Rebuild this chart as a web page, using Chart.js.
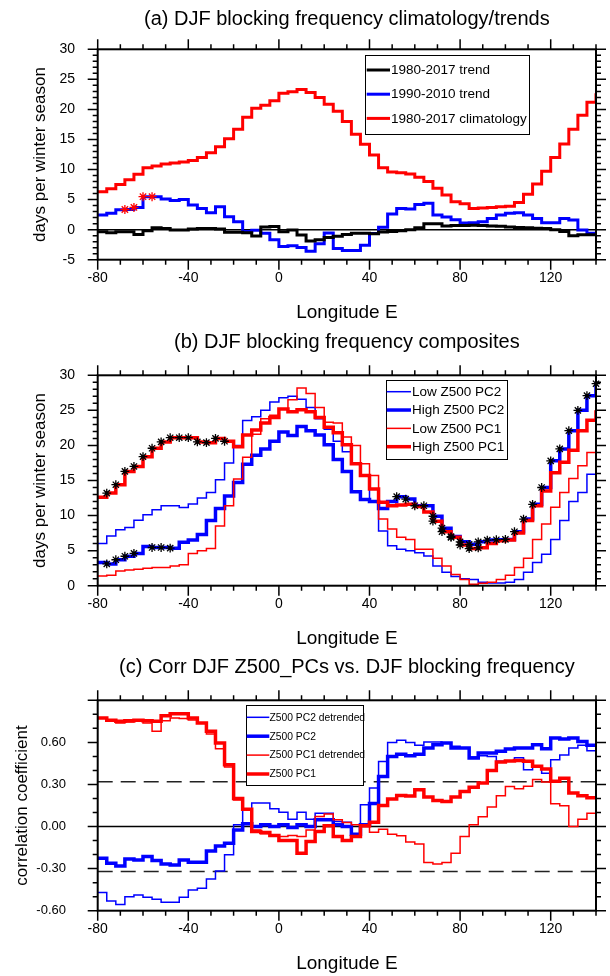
<!DOCTYPE html>
<html>
<head>
<meta charset="utf-8">
<script src="https://cdn.jsdelivr.net/npm/chart.js@4.4.1/dist/chart.umd.min.js"></script>
<style>
html, body { margin: 0; padding: 0; background: #fff; }
.panel { position: absolute; left: 0; width: 610px; }
canvas { display: block; }
</style>
</head>
<body>
<div class="panel" style="top:0px"><canvas id="chartA" width="610" height="326"></canvas></div>
<div class="panel" style="top:326px"><canvas id="chartB" width="610" height="326"></canvas></div>
<div class="panel" style="top:651px"><canvas id="chartC" width="610" height="325"></canvas></div>
<script>
// longitudes (deg E), one value per 4-degree box, last entry closes the final step at 140
const LON = [-80,-76,-72,-68,-64,-60,-56,-52,-48,-44,-40,-36,-32,-28,-24,-20,-16,-12,-8,-4,
             0,4,8,12,16,20,24,28,32,36,40,44,48,52,56,60,64,68,72,76,
             80,84,88,92,96,100,104,108,112,116,120,124,128,132,136,140];

// (a) climatology / trends, days per winter season
const clim8017 = [6.3,6.8,7.5,8.3,9.2,10.3,10.6,10.9,11.1,11.25,
                  11.5,12.0,12.8,13.8,15.1,16.7,18.7,20.2,20.7,21.45,
                  22.7,22.95,23.3,22.8,22.0,20.85,19.7,18.0,15.85,14.2,
                  12.4,10.3,9.6,9.45,9.25,8.7,8.0,6.9,5.75,4.65,
                  4.3,3.5,3.6,3.7,3.8,3.9,4.5,5.9,7.6,9.7,
                  12.0,14.25,16.7,19.05,21.2,22.7];
const trend9010 = [2.43,2.71,3.32,3.35,3.7,5.48,5.48,5.1,4.85,5.0,
                   4.1,3.5,2.8,3.8,2.15,1.3,-0.3,-0.1,-0.6,-1.7,
                   -2.8,-2.7,-2.95,-3.6,-2.35,-0.55,-3.15,-3.45,-3.45,-2.6,
                   -0.65,0.4,2.6,3.5,3.45,4.2,4.4,2.43,2.1,1.65,
                   1.1,1.15,1.3,1.87,2.43,2.71,2.82,2.43,1.87,1.15,
                   1.15,1.87,1.6,-0.06,-0.62,-0.62];
const trend8017 = [-0.34,-0.5,-0.34,-0.34,-0.8,-0.2,0.32,0.2,-0.07,-0.07,
                   0.1,0.2,0.2,0.1,-0.45,-0.45,-0.5,-1.07,0.43,0.54,
                   -0.34,-0.07,-0.9,-1.9,-1.7,-1.3,-1.1,-0.8,-0.6,-0.6,
                   -0.7,-0.4,-0.3,-0.2,0.0,0.3,1.0,1.0,0.6,0.7,
                   0.7,0.75,0.7,0.6,0.55,0.45,0.35,0.3,0.25,0.2,
                   0.0,-0.3,-1.0,-0.85,-0.85,-0.85];
const sigTrend9010 = [-68,-64,-60,-56];

// (b) composites, days per winter season
const lowPC2  = [6.0,7.1,7.97,8.3,9.35,10.1,10.83,11.4,11.4,11.16,
                 11.64,12.5,13.3,15.1,17.5,20.0,23.56,24.1,25.0,26.2,
                 26.8,27.0,26.6,25.4,23.8,22.3,20.6,19.1,17.5,15.6,
                 11.9,7.8,5.7,5.2,5.0,4.7,4.25,2.8,1.9,1.3,
                 1.0,0.9,0.5,0.4,0.4,0.5,0.9,1.9,3.3,4.5,
                 6.6,9.3,12.0,13.3,15.9,15.9];
const highPC2 = [3.3,3.1,3.7,4.2,4.6,5.6,5.45,5.45,5.35,6.2,
                 6.5,7.3,9.3,11.0,12.8,14.7,17.3,18.6,19.5,20.6,
                 21.9,21.4,22.7,22.1,21.5,20.1,18.0,16.3,13.4,12.3,
                 12.0,11.0,12.0,12.7,12.35,11.4,11.4,9.9,8.2,7.0,
                 6.25,5.9,6.25,6.5,6.55,6.6,7.7,9.5,11.6,14.0,
                 17.8,19.5,22.1,25.0,27.1,28.8];
const lowPC1  = [1.4,1.5,2.1,2.25,2.35,2.5,2.6,2.6,2.8,3.0,
                 4.6,5.0,5.3,8.5,11.4,15.2,18.3,21.6,23.8,24.3,
                 25.2,26.5,28.2,27.4,25.4,23.3,23.2,21.2,20.0,17.4,
                 15.7,9.5,8.1,6.9,6.6,5.2,5.2,3.9,2.8,1.6,
                 0.9,0.2,0.35,0.5,0.9,1.5,2.6,3.9,6.6,8.8,
                 11.2,13.3,15.3,17.1,19.0,19.0];
const highPC1 = [12.6,13.2,14.4,16.3,17.0,18.4,19.6,20.5,21.1,21.1,
                 21.1,20.5,20.4,21.0,20.6,19.8,21.5,22.2,23.2,24.0,
                 25.2,24.8,25.1,24.8,24.0,22.6,21.8,20.1,17.4,15.7,
                 13.8,11.9,11.4,11.5,11.6,11.3,10.5,9.2,7.7,6.9,
                 5.8,5.3,5.4,6.0,6.4,6.5,7.5,9.3,11.4,13.5,
                 16.1,17.6,19.3,22.1,23.6,25.0];
const sigHighPC1 = [-76,-72,-68,-64,-60,-56,-52,-48,-44,-40,-36,-32,-28,-24,68,72,76,80,84,88];
const sigHighPC2 = [-76,-72,-68,-64,-56,-52,-48,52,56,60,64,68,72,76,80,84,88,92,96,
                    100,104,108,112,116,120,124,128,132,136,140];

// (c) correlations
const pc2Detr = [-0.47,-0.53,-0.555,-0.5,-0.488,-0.505,-0.519,-0.54,-0.54,-0.505,
                 -0.452,-0.44,-0.374,-0.317,-0.202,0.012,0.12,0.167,0.167,0.126,
                 0.102,0.052,0.102,0.052,0.095,0.095,0.036,0.03,-0.055,0.155,
                 0.274,0.464,0.6,0.615,0.6,0.58,0.603,0.603,0.595,0.572,
                 0.56,0.495,0.505,0.5,0.465,0.465,0.49,0.405,0.424,0.38,
                 0.476,0.51,0.56,0.58,0.54,0.54];
const pc2Corr = [-0.226,-0.262,-0.281,-0.231,-0.238,-0.214,-0.243,-0.267,-0.274,-0.238,
                 -0.255,-0.255,-0.174,-0.138,-0.119,-0.024,0.02,0.0,0.012,0.0,
                 0.012,-0.007,0.012,0.0,0.048,0.048,0.012,0.0,-0.055,0.012,
                 0.165,0.357,0.5,0.515,0.505,0.515,0.56,0.583,0.595,0.56,
                 0.56,0.488,0.524,0.524,0.536,0.553,0.56,0.56,0.583,0.555,
                 0.631,0.624,0.631,0.607,0.579,0.579];
const pc1Detr = [0.774,0.75,0.738,0.745,0.755,0.738,0.68,0.755,0.774,0.77,
                 0.76,0.738,0.66,0.555,0.424,0.19,0.125,-0.024,-0.052,-0.06,
                 -0.071,-0.064,-0.071,-0.024,0.071,0.09,0.048,0.029,0.012,0.0,
                 -0.04,-0.02,-0.055,-0.065,-0.11,-0.124,-0.257,-0.267,-0.257,-0.19,
                 -0.071,0.012,0.07,0.14,0.22,0.286,0.27,0.288,0.335,0.318,
                 0.162,0.148,0.0,0.052,0.095,0.095];
const pc1Corr = [0.774,0.757,0.75,0.755,0.757,0.755,0.75,0.79,0.805,0.805,
                 0.774,0.738,0.679,0.595,0.44,0.2,0.124,-0.036,-0.043,-0.064,
                 -0.1,-0.1,-0.19,-0.107,-0.036,0.005,-0.071,-0.1,-0.071,0.005,
                 0.03,0.15,0.197,0.222,0.218,0.262,0.21,0.186,0.179,0.21,
                 0.25,0.28,0.31,0.4,0.46,0.467,0.47,0.465,0.43,0.41,
                 0.322,0.345,0.24,0.219,0.205,0.2];
const sigLevel = 0.32;

const FONT = "'Liberation Sans', Arial, Helvetica, sans-serif";
const PLOT_TOP = 49.3;
const PLOT_BOTTOM = 259.7;

function line(label, vals, color, width, order) {
    return {
        label: label,
        data: LON.map((x, i) => ({ x: x, y: vals[i] })),
        borderColor: color,
        backgroundColor: color,
        borderWidth: width,
        pointRadius: 0,
        stepped: 'before',
        fill: false,
        tension: 0,
        order: order
    };
}

function hline(value, color, width, dash, order) {
    return {
        data: [{ x: LON[0], y: value }, { x: LON[LON.length - 1], y: value }],
        borderColor: color,
        borderWidth: width,
        borderDash: dash,
        pointRadius: 0,
        fill: false,
        order: order
    };
}

function stars(lons, vals, color, size, order) {
    return {
        data: lons.map(x => ({ x: x, y: vals[LON.indexOf(x)] })),
        showLine: false,
        pointStyle: 'star',
        pointRadius: size,
        borderColor: color,
        backgroundColor: color,
        borderWidth: 1.3,
        clip: false,
        order: order
    };
}

// frame plus outward tick marks on all four sides, placed through the scales
const frameTicks = {
    id: 'frameTicks',
    afterDatasetsDraw(chart, args, o) {
        let ctx = chart.ctx;
        let a = chart.chartArea;
        let x = chart.scales.x;
        let y = chart.scales.y;
        ctx.save();
        ctx.strokeStyle = '#000';
        ctx.lineWidth = 1.5;
        ctx.beginPath();
        let nx = Math.round((x.max - x.min) / o.xMinor);
        let kx = Math.round(o.xMajor / o.xMinor);
        for (let i = 0; i <= nx; i++) {
            let px = x.getPixelForValue(x.min + i * o.xMinor);
            let len = i % kx === 0 ? 10 : 5;
            ctx.moveTo(px, a.bottom); ctx.lineTo(px, a.bottom + len);
            ctx.moveTo(px, a.top); ctx.lineTo(px, a.top - len);
        }
        let ny = Math.round((y.max - y.min) / o.yMinor);
        let ky = Math.round(o.yMajor / o.yMinor);
        for (let i = 0; i <= ny; i++) {
            let py = y.getPixelForValue(y.min + i * o.yMinor);
            let len = i % ky === 0 ? 10 : 5;
            ctx.moveTo(a.left, py); ctx.lineTo(a.left - len, py);
            ctx.moveTo(a.right, py); ctx.lineTo(a.right + len, py);
        }
        ctx.stroke();
        ctx.lineWidth = 2;
        ctx.strokeRect(a.left, a.top, a.right - a.left, a.bottom - a.top);
        ctx.restore();
    }
};

// boxed legend inside the plot, read from the datasets
const boxLegend = {
    id: 'boxLegend',
    afterDraw(chart, args, o) {
        if (!o.items) return;
        let ctx = chart.ctx;
        ctx.save();
        ctx.fillStyle = '#fff';
        ctx.fillRect(o.x, o.y, o.w, o.h);
        ctx.strokeStyle = '#000';
        ctx.lineWidth = 1;
        ctx.strokeRect(o.x + 0.5, o.y + 0.5, o.w, o.h);
        ctx.font = o.size + 'px ' + FONT;
        ctx.textBaseline = 'middle';
        ctx.textAlign = 'left';
        o.items.forEach((idx, i) => {
            let ds = chart.data.datasets[idx];
            let yy = o.y + o.first + i * o.step;
            ctx.strokeStyle = ds.borderColor;
            ctx.lineWidth = ds.borderWidth;
            ctx.beginPath();
            ctx.moveTo(o.x + o.lineFrom, yy);
            ctx.lineTo(o.x + o.lineTo, yy);
            ctx.stroke();
            ctx.fillStyle = '#000';
            ctx.fillText(ds.label, o.x + o.textX, yy + 0.5);
        });
        ctx.restore();
    }
};

Chart.register(frameTicks, boxLegend);

function panelOptions(p) {
    return {
        responsive: false,
        animation: false,
        events: [],
        devicePixelRatio: 1,
        layout: { padding: { left: 0, right: 14, top: 0, bottom: 0 } },
        plugins: {
            legend: { display: false },
            tooltip: { enabled: false },
            title: {
                display: true,
                text: p.title,
                fullSize: false,
                color: '#000',
                font: { family: FONT, size: 20, weight: 'normal', lineHeight: 1.2 },
                padding: { top: p.titleTop, bottom: PLOT_TOP - p.titleTop - 24 }
            },
            frameTicks: { xMajor: 40, xMinor: 10, yMajor: p.yMajor, yMinor: p.yMinor },
            boxLegend: p.legend
        },
        scales: {
            x: {
                type: 'linear',
                min: -80,
                max: 140,
                grid: { display: false, drawTicks: false },
                border: { display: false },
                afterFit: s => { s.height = p.height - PLOT_BOTTOM; },
                ticks: {
                    stepSize: 40,
                    padding: 10,
                    color: '#000',
                    maxRotation: 0,
                    autoSkip: false,
                    font: { family: FONT, size: 14 },
                    callback: v => ((v + 80) % 40 === 0 ? String(v) : null)
                },
                title: {
                    display: true,
                    text: 'Longitude E',
                    color: '#000',
                    font: { family: FONT, size: 19 },
                    padding: { top: 0, bottom: Math.max(0, p.height - 313 - 11.4) }
                }
            },
            y: {
                type: 'linear',
                min: p.yMin,
                max: p.yMax,
                grid: { display: false, drawTicks: false },
                border: { display: false },
                afterFit: s => { s.width = 97.7; },
                ticks: {
                    stepSize: p.yMajor,
                    padding: p.yPad,
                    color: '#000',
                    font: { family: FONT, size: p.yFont },
                    callback: p.yFmt
                },
                title: {
                    display: true,
                    text: p.yTitle,
                    color: '#000',
                    font: { family: FONT, size: 17 },
                    padding: { top: p.yTitlePad, bottom: 0 }
                }
            }
        }
    };
}

new Chart(document.getElementById('chartA'), {
    type: 'line',
    data: {
        datasets: [
            line('1980-2017 trend', trend8017, '#000000', 3, 1),
            line('1990-2010 trend', trend9010, '#0000ff', 3, 2),
            line('1980-2017 climatology', clim8017, '#ff0000', 3, 3),
            hline(0, '#000000', 1.5, [], 4),
            stars(sigTrend9010, trend9010, '#ff0000', 4.5, 0)
        ]
    },
    options: panelOptions({
        title: '(a) DJF blocking frequency climatology/trends',
        titleTop: 7,
        height: 326,
        yMin: -5, yMax: 30, yMajor: 5, yMinor: 1,
        yPad: 22.7, yFont: 14, yFmt: v => String(v),
        yTitle: 'days per winter season', yTitlePad: 29.8,
        legend: { items: [0, 1, 2], x: 365, y: 55, w: 164, h: 79,
                  first: 15, step: 24.2, lineFrom: 1.7, lineTo: 25, textX: 26, size: 13.5 }
    })
});

new Chart(document.getElementById('chartB'), {
    type: 'line',
    data: {
        datasets: [
            line('Low Z500 PC2', lowPC2, '#0000ff', 1.5, 4),
            line('High Z500 PC2', highPC2, '#0000ff', 3.5, 3),
            line('Low Z500 PC1', lowPC1, '#ff0000', 1.5, 2),
            line('High Z500 PC1', highPC1, '#ff0000', 3.5, 1),
            stars(sigHighPC1, highPC1, '#000000', 4.4, 0),
            stars(sigHighPC2, highPC2, '#000000', 4.4, 0)
        ]
    },
    options: panelOptions({
        title: '(b) DJF blocking frequency composites',
        titleTop: 4.5,
        height: 326,
        yMin: 0, yMax: 30, yMajor: 5, yMinor: 1,
        yPad: 22.7, yFont: 14, yFmt: v => String(v),
        yTitle: 'days per winter season', yTitlePad: 29.8,
        legend: { items: [0, 1, 2, 3], x: 386, y: 54, w: 121, h: 79,
                  first: 11.7, step: 18.33, lineFrom: 0.7, lineTo: 25, textX: 26, size: 13.5 }
    })
});

new Chart(document.getElementById('chartC'), {
    type: 'line',
    data: {
        datasets: [
            line('Z500 PC2 detrended', pc2Detr, '#0000ff', 1.5, 4),
            line('Z500 PC2', pc2Corr, '#0000ff', 3.5, 3),
            line('Z500 PC1 detrended', pc1Detr, '#ff0000', 1.5, 2),
            line('Z500 PC1', pc1Corr, '#ff0000', 3.5, 1),
            hline(0, '#000000', 1.5, [], 5),
            hline(sigLevel, '#222222', 1.5, [15, 8], 6),
            hline(-sigLevel, '#222222', 1.5, [15, 8], 6)
        ]
    },
    options: panelOptions({
        title: '(c) Corr DJF Z500_PCs vs. DJF blocking frequency',
        titleTop: 4.5,
        height: 325,
        yMin: -0.6, yMax: 0.9, yMajor: 0.3, yMinor: 0.1,
        yPad: 31.7, yFont: 13, yFmt: v => (v > 0.85 ? null : v.toFixed(2)),
        yTitle: 'correlation coefficient', yTitlePad: 11.8,
        legend: { items: [0, 1, 2, 3], x: 246, y: 54, w: 117, h: 80,
                  first: 12.3, step: 18.9, lineFrom: 0.7, lineTo: 23.3, textX: 23.5, size: 10.3 }
    })
});
</script>
</body>
</html>
